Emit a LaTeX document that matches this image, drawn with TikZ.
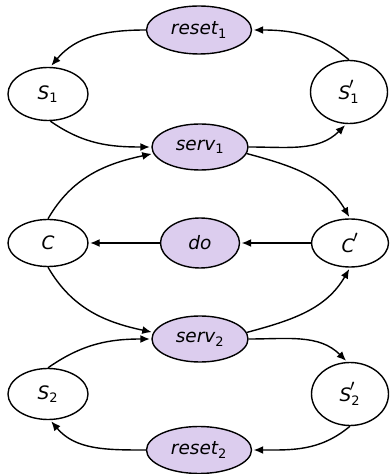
\documentclass[tikz,border=0pt]{standalone}
\usepackage{fontspec}
\setmainfont{DejaVu Sans}
\usetikzlibrary{shapes.geometric,arrows.meta}
\definecolor{lav}{RGB}{220,205,238}
\newcommand\mypr{\kern-1.5pt\scalebox{1.4}{$\scriptstyle\prime$}}
\newcommand\lbl[2]{$\hbox{\itshape #1}_{\hbox{\fontsize{13}{13}\selectfont #2}}$}
\newcommand\lblp[2]{$\hbox{\itshape #1}^{\mypr}_{\hbox{\fontsize{13}{13}\selectfont #2}}$}
\begin{document}
\begin{tikzpicture}[x=1pt,y=1pt,
  statebox/.style={ellipse, draw, line width=1.4pt, inner sep=0pt, font=\fontsize{18.5}{22}\selectfont},
  actbox/.style={statebox, fill=lav},
  arr/.style={line width=1.4pt, -{Latex[length=9.5pt,width=8pt]}, shorten >=1.5pt}]
\useasboundingbox (0,0) rectangle (390,474);
\node[actbox, minimum width=105pt, minimum height=48pt] (reset1) at (199,444) {\lbl{reset}{1}};
\node[statebox, minimum width=80pt, minimum height=53pt] (S1) at (48,380) {\lbl{S}{1}};
\node[statebox, minimum width=77pt, minimum height=63pt] (S1p) at (349,382) {\lblp{S}{1}};
\node[actbox, minimum width=96pt, minimum height=46pt] (serv1) at (200,327) {\lbl{serv}{1}};
\node[statebox, minimum width=80pt, minimum height=47pt] (C) at (48,231) {\itshape C};
\node[actbox, minimum width=79pt, minimum height=50pt] (do) at (200,231) {\itshape do};
\node[statebox, minimum width=77pt, minimum height=48pt] (Cp) at (350,231) {$\hbox{\itshape C}^{\mypr}$};
\node[actbox, minimum width=96pt, minimum height=46pt] (serv2) at (200,135) {\lbl{serv}{2}};
\node[statebox, minimum width=80pt, minimum height=51pt] (S2) at (48,80) {\lbl{S}{2}};
\node[statebox, minimum width=77pt, minimum height=63pt] (S2p) at (350,80) {\lblp{S}{2}};
\node[actbox, minimum width=105pt, minimum height=47pt] (reset2) at (199,24) {\lbl{reset}{2}};

\draw[arr] (reset1.west) to[out=180,in=50] (S1.85);
\draw[arr] (S1p.north) to[out=140,in=0] (reset1.east);
\draw[arr] (S1.-85) to[out=-35,in=180] (serv1.west);
\draw[arr] (serv1.east) to[out=0,in=225] (S1p.-95);
\draw[arr] (C.north) to[out=60,in=192] (serv1.188);
\draw[arr] (serv1.352) to[out=-15,in=120] (Cp.north);
\draw[arr] (Cp.west) -- (do.east);
\draw[arr] (do.west) -- (C.east);
\draw[arr] (C.south) to[out=-60,in=168] (serv2.172);
\draw[arr] (serv2.8) to[out=15,in=240] (Cp.south);
\draw[arr] (S2.north) to[out=35,in=180] (serv2.west);
\draw[arr] (serv2.east) to[out=0,in=135] (S2p.95);
\draw[arr] (S2p.south) to[out=220,in=0] (reset2.east);
\draw[arr] (reset2.west) to[out=180,in=-50] (S2.-85);
\end{tikzpicture}
\end{document}
